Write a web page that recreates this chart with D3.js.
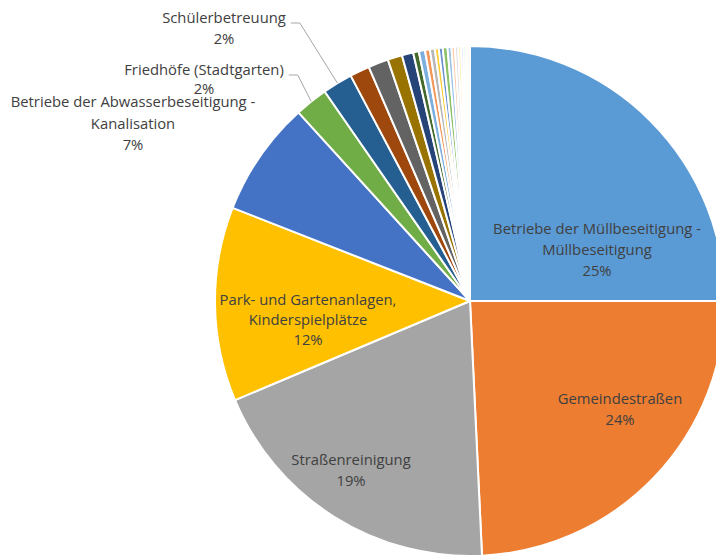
<!DOCTYPE html>
<meta http-equiv="content-type" content="text/html; charset=utf-8">
<style>
body { margin:0; background:#fff; }
text { font-family: "Open Sans", Lato, sans-serif; font-size:14.8px; fill:#404040; }
.leader { stroke:#a6a6a6; stroke-width:1; fill:none; }
</style>
<body>
<div id="chart"></div>
<script src="https://d3js.org/d3.v7.min.js"></script>
<script>
var width = 716, height = 556;

// categories (only the first seven carry a visible label in the picture)
var categories = [
  "Betriebe der Müllbeseitigung -\nMüllbeseitigung",
  "Gemeindestraßen",
  "Straßenreinigung",
  "Park- und Gartenanlagen,\nKinderspielplätze",
  "Betriebe der Abwasserbeseitigung -\nKanalisation",
  "Friedhöfe (Stadtgarten)",
  "Schülerbetreuung",
  "Bereich 8", "Bereich 9", "Bereich 10", "Bereich 11", "Bereich 12",
  "Bereich 13", "Bereich 14", "Bereich 15", "Bereich 16", "Bereich 17",
  "Bereich 18", "Bereich 19", "Bereich 20", "Bereich 21", "Bereich 22",
  "Bereich 23", "Bereich 24", "Bereich 25", "Bereich 26"
];
// shares in percent
var shares = [25.0, 24.25, 19.4, 12.3, 7.3, 2.1, 1.9, 1.25, 1.28, 0.92, 0.72,
  0.36, 0.39, 0.31, 0.31, 0.25, 0.25, 0.3,
  0.25, 0.22, 0.2, 0.18, 0.15, 0.14, 0.12, 0.15];
var shown = [true, true, true, true, true, true, true];

// office palette
var palette = ["#5B9BD5", "#ED7D31", "#A5A5A5", "#FFC000", "#4472C4", "#70AD47",
  "#255E91", "#9E480E", "#636363", "#997300", "#264478", "#43682B",
  "#7CAFDD", "#F1975A", "#B7B7B7", "#FFCD33", "#698ED0", "#8CC168",
  "#9DC3E6", "#F8CBAD", "#DBDBDB", "#FFE699", "#B4C7E7", "#C5E0B4",
  "#DEEBF7", "#FBE5D6"];

// where Excel dropped each label (centre of the first line) and whether it has a leader
var labelLayout = [
  {x:597, y:229, lh:21}, {x:620, y:399, lh:21}, {x:351, y:460, lh:21},
  {x:308, y:300, lh:20}, {x:133, y:102, lh:21.5},
  {x:204, y:70, lh:19, leader:true}, {x:224, y:18, lh:21, leader:true}
];

var cx = 470, cy = 301, r = 255;

var svg = d3.select("#chart").append("svg")
    .attr("width", width)
    .attr("height", height);

var g = svg.append("g").attr("transform", "translate(" + cx + "," + cy + ")");

var pie = d3.pie().sort(null).value(function(d) { return d; });
var arcs = pie(shares);
var total = d3.sum(shares);
var fPct = d3.format(".0%");

var arc = d3.arc().innerRadius(0).outerRadius(r);
var edge = d3.arc().innerRadius(r).outerRadius(r);

g.selectAll("path")
  .data(arcs)
  .enter().append("path")
    .attr("d", arc)
    .attr("fill", function(d, i) { return palette[i % palette.length]; })
    .attr("stroke", "#fff")
    .attr("stroke-width", 2)
    .attr("stroke-linejoin", "round")
  .append("title")
    .text(function(d, i) { return categories[i].replace("\n", " ") + ": " + fPct(d.value / total); });

var labels = svg.append("g");

arcs.forEach(function(d, i) {
  if (!shown[i]) return;
  var pos = labelLayout[i];
  var lines = categories[i].split("\n").concat([fPct(d.value / total)]);
  var t = labels.append("text")
      .attr("text-anchor", "middle");
  lines.forEach(function(s, k) {
    t.append("tspan")
      .attr("x", pos.x)
      .attr("y", pos.y + k * pos.lh)
      .attr("dy", "0.35em")
      .text(s);
  });
  if (pos.leader) {
    var first = t.select("tspan").node().getComputedTextLength();
    var x0 = pos.x + first / 2 + 5, y0 = pos.y + 5;
    var p = edge.centroid(d);
    labels.append("path")
      .attr("class", "leader")
      .attr("d", d3.line()([[x0, y0], [x0 + 9, y0], [cx + p[0], cy + p[1]]]));
  }
});
</script>
</body>
</html>
